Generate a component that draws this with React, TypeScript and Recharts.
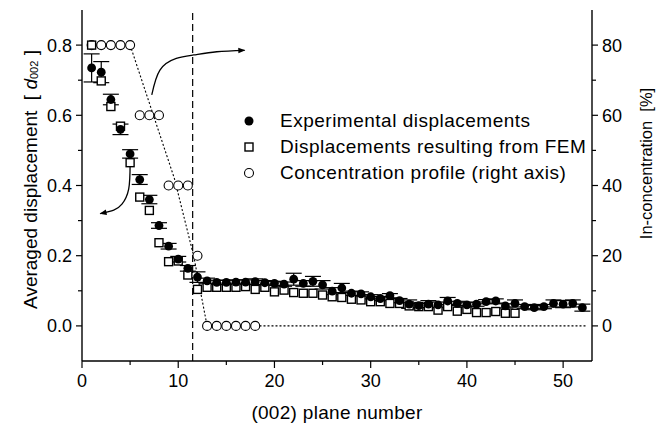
import React from 'react';
import { ComposedChart, Scatter, XAxis, YAxis, ErrorBar, ReferenceLine, Legend } from 'recharts';

const FONT = '"Liberation Sans", Arial, Helvetica, sans-serif';

// (002) plane index for every measured layer
const planes = [
  1, 2, 3, 4, 5, 6, 7, 8, 9, 10, 11, 12, 13, 14, 15, 16, 17, 18, 19, 20, 21, 22, 23, 24, 25, 26,
  27, 28, 29, 30, 31, 32, 33, 34, 35, 36, 37, 38, 39, 40, 41, 42, 43, 44, 45, 46, 47, 48, 49, 50, 51, 52,
];

// experimental displacement [d002] and its error
const measured = [
  0.735, 0.723, 0.645, 0.56, 0.49, 0.417, 0.36, 0.286, 0.227, 0.19, 0.164, 0.139, 0.128, 0.124, 0.124, 0.125,
  0.125, 0.126, 0.123, 0.121, 0.119, 0.133, 0.121, 0.127, 0.117, 0.099, 0.108, 0.093, 0.091, 0.083, 0.078,
  0.086, 0.072, 0.062, 0.058, 0.062, 0.06, 0.071, 0.064, 0.06, 0.062, 0.069, 0.071, 0.057, 0.064, 0.055,
  0.052, 0.055, 0.064, 0.062, 0.064, 0.052,
];
const measuredErr = [
  0.04, 0.03, 0.015, 0.015, 0.012, 0.014, 0.012, 0.008, 0.008, 0.008, 0.008, 0.015, 0.008, 0.006, 0.006, 0.006,
  0.006, 0.008, 0.006, 0.006, 0.006, 0.017, 0.008, 0.014, 0.012, 0.01, 0.013, 0.006, 0.006, 0.006, 0.006,
  0.006, 0.006, 0.012, 0.006, 0.01, 0.008, 0.01, 0.006, 0.006, 0.006, 0.006, 0.006, 0.006, 0.01, 0.006,
  0.006, 0.006, 0.01, 0.01, 0.01, 0.01,
];

// FEM displacements (planes 1..45)
const femValues = [
  0.8, 0.698, 0.625, 0.569, 0.465, 0.367, 0.329, 0.237, 0.183, 0.185, 0.145, 0.104, 0.11, 0.11, 0.11, 0.11,
  0.112, 0.104, 0.11, 0.097, 0.102, 0.095, 0.093, 0.093, 0.088, 0.083, 0.081, 0.076, 0.074, 0.069, 0.069,
  0.064, 0.064, 0.057, 0.055, 0.055, 0.045, 0.055, 0.042, 0.047, 0.038, 0.038, 0.041, 0.036, 0.036,
];

// In concentration [%] per plane (right axis)
const concPlanes = [1, 2, 3, 4, 5, 6, 7, 8, 9, 10, 11, 12, 13, 14, 15, 16, 17, 18];
const concValues = [80, 80, 80, 80, 80, 60, 60, 60, 40, 40, 40, 20, 0, 0, 0, 0, 0, 0];

// smooth concentration profile (dotted)
const profileX = [5, 9.6, 11.6, 13, 52.5];
const profileY = [80, 42, 20, 0, 0];

// curved arrows pointing to the axis each series belongs to
const arrowRightX = [7.25, 8.1, 9.8, 11.6, 14, 16.9];
const arrowRightY = [0.658, 0.729, 0.762, 0.772, 0.781, 0.785];
const arrowLeftX = [5.0, 4.85, 4.15, 3.3, 1.9];
const arrowLeftY = [0.465, 0.39, 0.347, 0.33, 0.32];

const interfacePlane = 11.5;

const xTicks = [0, 5, 10, 15, 20, 25, 30, 35, 40, 45, 50];
const leftTicks = [0, 0.1, 0.2, 0.3, 0.4, 0.5, 0.6, 0.7, 0.8];
const rightTicks = [0, 10, 20, 30, 40, 50, 60, 70, 80];

const measuredData = planes.map((x, i) => ({ x, y: measured[i], err: measuredErr[i] }));
const femData = femValues.map((y, i) => ({ x: planes[i], y }));
const concData = concPlanes.map((x, i) => ({ x, y: concValues[i] }));
const profileData = profileX.map((x, i) => ({ x, y: profileY[i] }));
const arrowRight = arrowRightX.map((x, i) => ({ x, y: arrowRightY[i] }));
const arrowLeft = arrowLeftX.map((x, i) => ({ x, y: arrowLeftY[i] }));

const BottomTick = ({ x, y, payload }: any) => {
  const major = payload.value % 10 === 0;
  return (
    <g>
      <line x1={x} x2={x} y1={y} y2={y + (major ? 7 : 4)} stroke="#000" strokeWidth={1.2} />
      {major && (
        <text x={x} y={y + 26} textAnchor="middle" fontSize={18} fontFamily={FONT} fill="#000">
          {payload.value}
        </text>
      )}
    </g>
  );
};

const TopTick = ({ x, y }: any) => (
  <line x1={x} x2={x} y1={y} y2={y + 5} stroke="#000" strokeWidth={1.2} />
);

const LeftTick = ({ x, y, payload }: any) => {
  const major = Math.round(payload.value * 10) % 2 === 0;
  return (
    <g>
      <line x1={x - (major ? 6 : 4)} x2={x} y1={y} y2={y} stroke="#000" strokeWidth={1.2} />
      {major && (
        <text x={x - 10} y={y} dy="0.36em" textAnchor="end" fontSize={18} fontFamily={FONT} fill="#000">
          {payload.value.toFixed(1)}
        </text>
      )}
    </g>
  );
};

const RightTick = ({ x, y, payload }: any) => {
  const major = payload.value % 20 === 0;
  return (
    <g>
      <line x1={x} x2={x + (major ? 6 : 4)} y1={y} y2={y} stroke="#000" strokeWidth={1.2} />
      {major && (
        <text x={x + 10} y={y} dy="0.36em" textAnchor="start" fontSize={18} fontFamily={FONT} fill="#000">
          {payload.value}
        </text>
      )}
    </g>
  );
};

const LeftTitle = ({ viewBox }: any) => {
  const cx = viewBox.x + 30;
  const cy = viewBox.y + viewBox.height / 2 - 6;
  return (
    <text
      transform={`translate(${cx},${cy}) rotate(-90)`}
      textAnchor="middle"
      dominantBaseline="central"
      fontSize={19}
      fontFamily={FONT}
      fill="#000"
    >
      {'Averaged displacement\u00a0\u00a0[\u00a0'}
      <tspan fontStyle="italic">d</tspan>
      <tspan fontSize={11} dy={4}>002</tspan>
      <tspan dy={-4}>{'\u00a0]'}</tspan>
    </text>
  );
};

const RightTitle = ({ viewBox }: any) => {
  const cx = viewBox.x + 54;
  const cy = viewBox.y + viewBox.height / 2 - 22;
  return (
    <text
      transform={`translate(${cx},${cy}) rotate(-90)`}
      textAnchor="middle"
      dominantBaseline="central"
      fontSize={16.5}
      fontFamily={FONT}
      fill="#000"
    >
      {'In-concentration\u00a0\u00a0[%]'}
    </text>
  );
};

const FilledDot = ({ cx, cy }: any) => <circle cx={cx} cy={cy} r={4.4} fill="#000" />;
const OpenSquare = ({ cx, cy }: any) => (
  <rect x={cx - 4} y={cy - 4} width={8} height={8} fill="#fff" stroke="#000" strokeWidth={1.4} />
);
const OpenCircle = ({ cx, cy }: any) => (
  <circle cx={cx} cy={cy} r={4.5} fill="#fff" stroke="#000" strokeWidth={1.1} />
);
const NoMark = () => <g />;

const legendRows = [
  { label: 'Experimental displacements', icon: <circle cx={9} cy={9} r={4.5} fill="#000" /> },
  { label: 'Displacements resulting from FEM', icon: <rect x={5} y={5} width={8} height={8} fill="#fff" stroke="#000" strokeWidth={1.4} /> },
  { label: 'Concentration profile (right axis)', icon: <circle cx={9} cy={9} r={4.5} fill="#fff" stroke="#000" strokeWidth={1.1} /> },
];

const LegendBox = () => (
  <div style={{ fontFamily: FONT, fontSize: 19, letterSpacing: 0.5, color: '#000', whiteSpace: 'nowrap' }}>
    {legendRows.map((r) => (
      <div key={r.label} style={{ display: 'flex', alignItems: 'center', height: 26 }}>
        <svg width={18} height={18} style={{ marginRight: 22 }}>{r.icon}</svg>
        <span>{r.label}</span>
      </div>
    ))}
  </div>
);

export default function App() {
  return (
    <div style={{ position: 'absolute', left: 0, top: 0, background: '#fff' }}>
      <ComposedChart width={665} height={426} margin={{ top: 10, right: 0, bottom: 0, left: 0 }}>
        <defs>
          <marker id="arrowHead" viewBox="0 0 10 10" refX="9" refY="5" markerWidth="8" markerHeight="7" orient="auto" markerUnits="userSpaceOnUse">
            <path d="M0,1 L10,5 L0,9 z" fill="#000" />
          </marker>
        </defs>
        <XAxis
          dataKey="x"
          type="number"
          domain={[0, 53]}
          ticks={xTicks}
          interval={0}
          tickSize={0}
          tickMargin={0}
          tickLine={false}
          tick={<BottomTick />}
          height={65}
          axisLine={{ stroke: '#000', strokeWidth: 1.4 }}
          allowDataOverflow
          label={{ value: '(002) plane number', position: 'insideBottom', offset: 7, fontSize: 19, letterSpacing: 0.3, fontFamily: FONT, fill: '#000' }}
        />
        <XAxis
          xAxisId="top"
          orientation="top"
          type="number"
          domain={[0, 53]}
          ticks={xTicks}
          interval={0}
          tickSize={0}
          tickMargin={0}
          tickLine={false}
          tick={<TopTick />}
          height={0}
          axisLine={{ stroke: '#000', strokeWidth: 1.4 }}
          allowDataOverflow
        />
        <YAxis
          yAxisId="left"
          type="number"
          domain={[-0.1, 0.9]}
          ticks={leftTicks}
          interval={0}
          tickSize={0}
          tickMargin={0}
          tickLine={false}
          tick={<LeftTick />}
          width={82}
          axisLine={{ stroke: '#000', strokeWidth: 1.4 }}
          allowDataOverflow
          label={<LeftTitle />}
        />
        <YAxis
          yAxisId="right"
          orientation="right"
          type="number"
          domain={[-10, 90]}
          ticks={rightTicks}
          interval={0}
          tickSize={0}
          tickMargin={0}
          tickLine={false}
          tick={<RightTick />}
          width={73}
          axisLine={{ stroke: '#000', strokeWidth: 1.4 }}
          allowDataOverflow
          label={<RightTitle />}
        />
        <ReferenceLine x={interfacePlane} yAxisId="left" stroke="#000" strokeWidth={1.2} strokeDasharray="7 4" />
        <Scatter
          yAxisId="right"
          data={profileData}
          dataKey="y"
          shape={<NoMark />}
          line={{ stroke: '#000', strokeWidth: 1.1, strokeDasharray: '2 2' }}
          legendType="none"
          isAnimationActive={false}
        />
        <Scatter
          yAxisId="left"
          data={arrowRight}
          dataKey="y"
          shape={<NoMark />}
          line={{ stroke: '#000', strokeWidth: 1.3, markerEnd: 'url(#arrowHead)' }}
          lineJointType="natural"
          legendType="none"
          isAnimationActive={false}
        />
        <Scatter
          yAxisId="left"
          data={arrowLeft}
          dataKey="y"
          shape={<NoMark />}
          line={{ stroke: '#000', strokeWidth: 1.3, markerEnd: 'url(#arrowHead)' }}
          lineJointType="natural"
          legendType="none"
          isAnimationActive={false}
        />
        <Scatter yAxisId="right" data={concData} dataKey="y" shape={<OpenCircle />} isAnimationActive={false} />
        <Scatter yAxisId="left" data={femData} dataKey="y" shape={<OpenSquare />} isAnimationActive={false} />
        <Scatter yAxisId="left" data={measuredData} dataKey="y" shape={<FilledDot />} isAnimationActive={false}>
          <ErrorBar dataKey="err" direction="y" width={8} stroke="#000" strokeWidth={1.2} />
        </Scatter>
        <Legend
          layout="horizontal"
          verticalAlign="middle"
          align="center"
          content={<LegendBox />}
          wrapperStyle={{ left: 240, top: 108, width: 420 }}
        />
      </ComposedChart>
    </div>
  );
}
